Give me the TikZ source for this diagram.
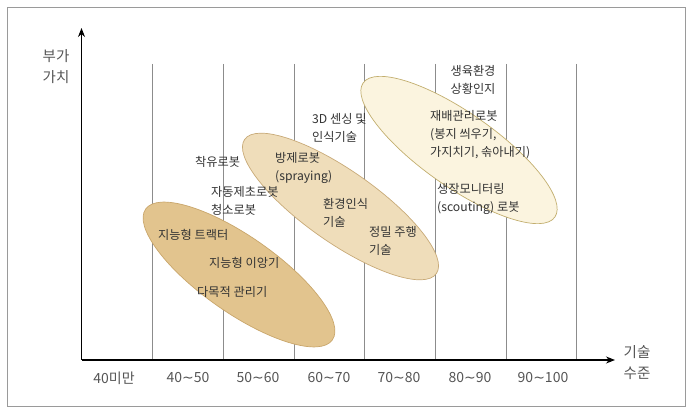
\documentclass[tikz,border=0pt]{standalone}
\usepackage{fontspec}
\newfontfamily\kr{Noto Sans CJK KR}
\newfontfamily\dv{DejaVu Sans}
\usetikzlibrary{arrows.meta}
\definecolor{txt}{HTML}{333333}
\definecolor{axtxt}{HTML}{555555}
\definecolor{grid}{HTML}{8C8C8C}
\definecolor{frame}{HTML}{9A9A9A}
\definecolor{eonefill}{HTML}{E2C48E}
\definecolor{eonedraw}{HTML}{C9A66B}
\definecolor{etwofill}{HTML}{EFDDBA}
\definecolor{etwodraw}{HTML}{C8AA78}
\definecolor{ethreefill}{HTML}{FBF4DF}
\definecolor{ethreedraw}{HTML}{C2AE6E}
\newcommand{\wv}{{\dv\fontsize{14}{16}\selectfont ∼}}
\begin{document}
\begin{tikzpicture}[x=1pt,y=-1pt,
  lbl/.style={font=\kr\fontsize{12.2}{18}\selectfont, text=txt, inner sep=0pt, align=left, anchor=west},
  axlbl/.style={font=\kr\fontsize{14.5}{21}\selectfont, text=axtxt, inner sep=0pt, align=center},
  ticklbl/.style={font=\kr\fontsize{14}{16}\selectfont, text=axtxt, inner sep=0pt},
  gridline/.style={draw=grid, line width=0.6pt},
  axisline/.style={draw=black, line width=1.1pt},
  blob/.style={line width=0.7pt}
]
\useasboundingbox (0,0) rectangle (696,419);
\draw[frame, line width=1pt] (7,8) rectangle (685,406);
% grid lines
\foreach \i in {0,...,6} {
  \coordinate (gt\i) at ({152.7+70.67*\i},64);
  \coordinate (gb\i) at ({152.7+70.67*\i},360);
  \draw[gridline] (gt\i) -- (gb\i);
}
% axes
\coordinate (origin) at (81.5,360);
\coordinate (ytip) at (81.5,28);
\coordinate (xtip) at (615,360);
\draw[axisline, -{Stealth[length=9pt,width=7pt]}] (origin) -- (ytip);
\draw[axisline, -{Stealth[length=9pt,width=7pt]}] (origin) -- (xtip);
% ellipses
\draw[blob, draw=eonedraw, fill=eonefill, rotate around={-35:(239,274.5)}] (239,274.5) ellipse [x radius=114pt, y radius=38pt];
\draw[blob, draw=etwodraw, fill=etwofill, rotate around={-35:(340.5,206.5)}] (340.5,206.5) ellipse [x radius=117pt, y radius=36pt];
\draw[blob, draw=ethreedraw, fill=ethreefill, rotate around={-35:(459,150)}] (459,150) ellipse [x radius=117pt, y radius=37pt];
% axis labels
\node[axlbl] (ylab) at (56,67) {부가\\가치};
\node[axlbl] (xlab) at (637,363) {기술\\수준};
% tick labels
\node[ticklbl] (t0) at (114,378) {40미만};
\node[ticklbl] (t1) at (188,378) {40\wv50};
\node[ticklbl] (t2) at (258,378) {50\wv60};
\node[ticklbl] (t3) at (329,378) {60\wv70};
\node[ticklbl] (t4) at (399,378) {70\wv80};
\node[ticklbl] (t5) at (470,378) {80\wv90};
\node[ticklbl] (t6) at (543,378) {90\wv100};
% labels
\node[lbl] (milk) at (195,162) {착유로봇};
\node[lbl] (spray) at (275,168) {방제로봇\\(spraying)};
\node[lbl] (weed) at (211,201) {자동제초로봇\\청소로봇};
\node[lbl] (sense) at (312,128) {3D 센싱 및\\인식기술};
\node[lbl, anchor=center, align=center] (env) at (473,80) {생육환경\\상황인지};
\node[lbl] (cult) at (430,135) {재배관리로봇\\(봉지 씌우기,\\가지치기, 솎아내기)};
\node[lbl] (scout) at (437,199) {생장모니터링\\(scouting) 로봇};
\node[lbl] (envtech) at (323,213) {환경인식\\기술};
\node[lbl] (drive) at (369,241) {정밀 주행\\기술};
\node[lbl] (tractor) at (158,235) {지능형 트랙터};
\node[lbl] (planter) at (209,263) {지능형 이앙기};
\node[lbl] (multi) at (197,292) {다목적 관리기};
\end{tikzpicture}
\end{document}
